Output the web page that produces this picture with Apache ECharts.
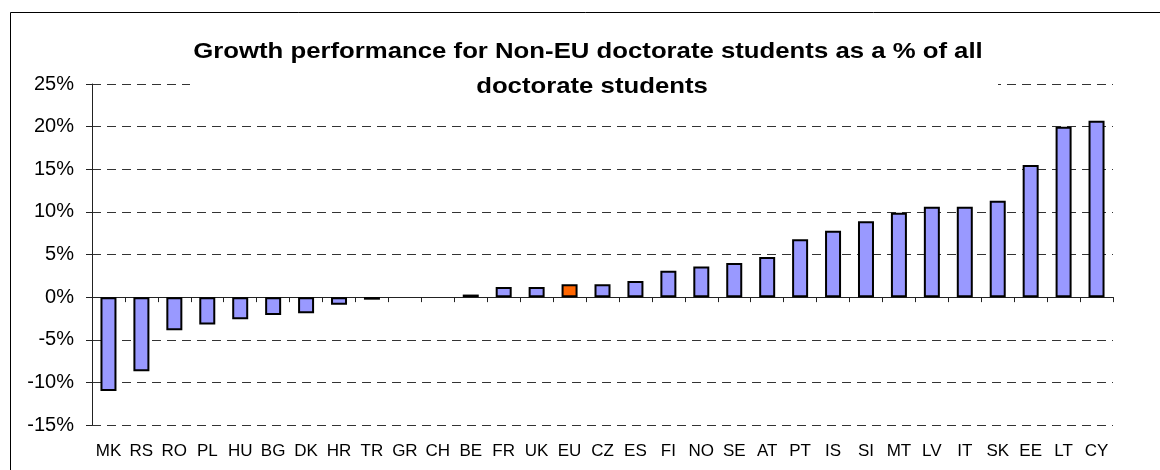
<!DOCTYPE html>
<html>
<head>
<meta charset="utf-8">
<script src="https://cdn.jsdelivr.net/npm/echarts@6/dist/echarts.min.js"></script>
<style>
  html, body { margin: 0; padding: 0; background: #fff; }
  #chart { width: 1160px; height: 470px; }
</style>
</head>
<body>
<div id="chart"></div>
<script>
// Countries, ordered by growth
const countries = ['MK','RS','RO','PL','HU','BG','DK','HR','TR','GR','CH','BE','FR','UK','EU','CZ','ES','FI','NO','SE','AT','PT','IS','SI','MT','LV','IT','SK','EE','LT','CY'];
// Growth of non-EU doctorate students as a share of all doctorate students (%)
const growth = [-11.0,-8.7,-3.9,-3.2,-2.6,-2.1,-1.9,-0.9,-0.3,0,0,0.3,1.2,1.2,1.5,1.5,1.9,3.1,3.6,4.0,4.7,6.8,7.8,8.9,9.9,10.6,10.6,11.3,15.5,20.0,20.7];
// Value axis range and step (%)
const yMin = -15, yMax = 25, yStep = 5;
// Aggregate highlighted in its own colour
const highlight = 'EU';

const titleLines = ['Growth performance for Non-EU doctorate students as a % of all', 'doctorate students'];

const chart = echarts.init(document.getElementById('chart'), null, { renderer: 'canvas' });

// A zero change draws no bar at all
const barData = countries.map((c, i) => ({
  value: growth[i] === 0 ? '-' : growth[i],
  itemStyle: c === highlight ? { color: '#FF6600' } : undefined
}));

const labelFont = 'Liberation Sans, Arial, sans-serif';

chart.setOption({
  animation: false,
  backgroundColor: '#fff',
  grid: { left: 92, right: 47, top: 84, bottom: 45, containLabel: false },
  xAxis: [
    {
      type: 'category',
      data: countries,
      axisLine: { onZero: true, lineStyle: { color: '#222', width: 1 } },
      axisTick: { show: true, length: 5, alignWithLabel: false, lineStyle: { color: '#222' } },
      axisLabel: { show: false },
      splitLine: { show: false }
    },
    {
      type: 'category',
      data: countries,
      position: 'bottom',
      axisLine: { show: false, onZero: false },
      axisTick: { show: false },
      axisLabel: { show: true, interval: 0, margin: 18, fontFamily: labelFont, fontSize: 17, color: '#000' }
    }
  ],
  yAxis: {
    type: 'value',
    min: yMin, max: yMax, interval: yStep,
    axisLine: { show: true, lineStyle: { color: '#222', width: 1 } },
    axisTick: { show: true, length: 6, inside: false, lineStyle: { color: '#222' } },
    axisLabel: { margin: 18, formatter: v => v + '%', fontFamily: labelFont, fontSize: 20, color: '#000' },
    splitLine: { show: true, lineStyle: { color: '#333', width: 1, type: [9, 6] } }
  },
  series: [{
    type: 'bar',
    xAxisIndex: 0,
    data: barData,
    barWidth: 16,
    itemStyle: { color: '#9999FF', borderColor: '#000', borderWidth: 2 }
  }],
  graphic: [
    {
      type: 'rect', z: 100, silent: true,
      shape: { x: 10.5, y: 12.5, width: 1300, height: 600 },
      style: { fill: null, stroke: '#000', lineWidth: 1 }
    },
    {
      type: 'rect', z: 100, silent: true,
      shape: { x: 190, y: 38, width: 808, height: 66 },
      style: { fill: '#fff' }
    },
    {
      type: 'text', z: 101, silent: true, x: 588, y: 52, scaleX: 1.17,
      style: { text: titleLines[0], x: 0, y: 0, align: 'center', verticalAlign: 'middle',
               font: 'bold 22px "Liberation Sans", Arial, sans-serif', fill: '#000' }
    },
    {
      type: 'text', z: 101, silent: true, x: 592, y: 87, scaleX: 1.17,
      style: { text: titleLines[1], x: 0, y: 0, align: 'center', verticalAlign: 'middle',
               font: 'bold 22px "Liberation Sans", Arial, sans-serif', fill: '#000' }
    }
  ]
});
</script>
</body>
</html>
